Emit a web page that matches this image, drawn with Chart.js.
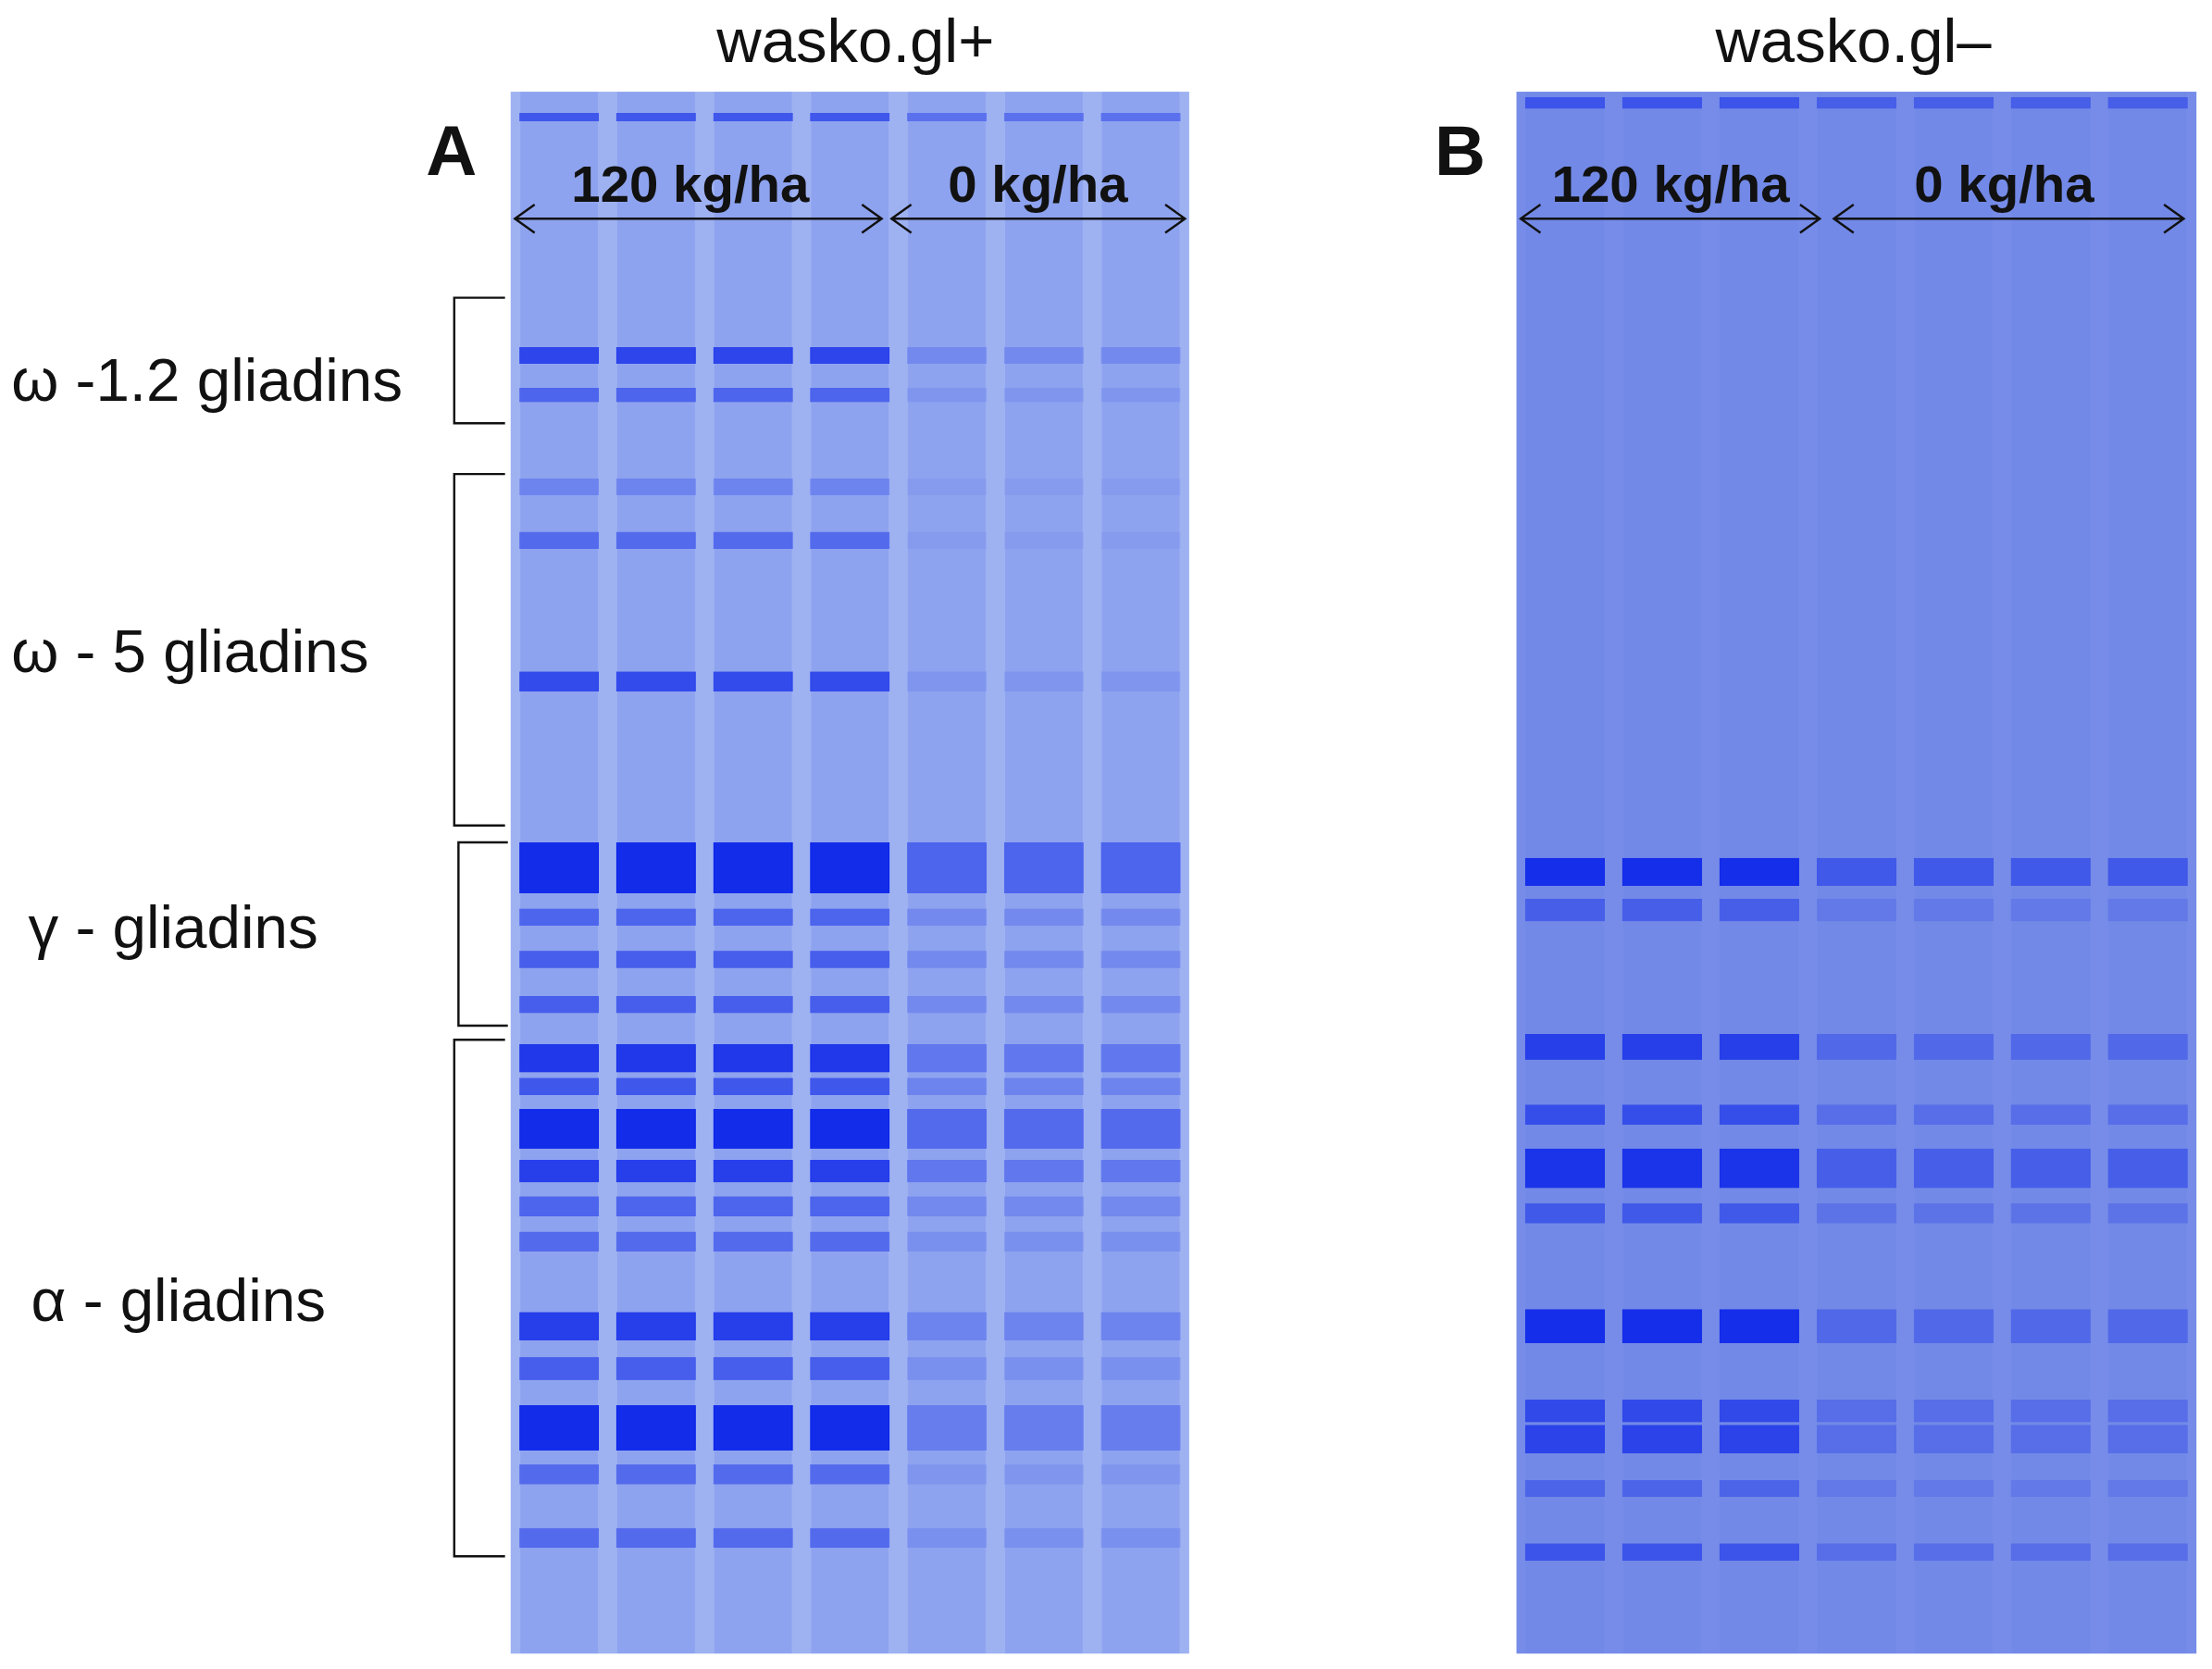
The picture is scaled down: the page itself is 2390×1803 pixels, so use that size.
<!DOCTYPE html>
<html><head><meta charset="utf-8">
<script src="https://cdn.jsdelivr.net/npm/chart.js@4/dist/chart.umd.min.js"></script>
<style>
html,body{margin:0;padding:0;background:#fff;overflow:hidden}
#page{position:absolute;left:0;top:0;width:1568px;height:1188px;transform:scale(1.5242);transform-origin:0 0;font-family:"Liberation Sans",Arial,sans-serif;color:#111}
.t{position:absolute;white-space:nowrap}
canvas{position:absolute}
</style></head><body>
<div id="page">
<canvas id="ga" style="left:362px;top:65px;width:481px;height:1107px"></canvas>
<canvas id="gb" style="left:1075px;top:65px;width:482px;height:1107px"></canvas>
<svg style="position:absolute;left:0;top:0" width="1568" height="1188" fill="none" stroke="#111" stroke-width="1.6">
<path d="M358 211H322V300H358M358 336H322V585H358M360 597H325V727H360M358 737H322V1103H358"/>
<g id="arrows"></g>
</svg>
<div class="t" style="left:508px;top:4px;font-size:44px">wasko.gl+</div>
<div class="t" style="left:1216px;top:4px;font-size:44px">wasko.gl–</div>
<div class="t" style="left:302px;top:78px;font-size:50px;font-weight:bold">A</div>
<div class="t" style="left:1017px;top:78px;font-size:50px;font-weight:bold">B</div>
<div class="t" style="left:405px;top:110px;font-size:37px;font-weight:bold">120 kg/ha</div>
<div class="t" style="left:672px;top:110px;font-size:37px;font-weight:bold">0 kg/ha</div>
<div class="t" style="left:1100px;top:110px;font-size:37px;font-weight:bold">120 kg/ha</div>
<div class="t" style="left:1357px;top:110px;font-size:37px;font-weight:bold">0 kg/ha</div>
<div class="t" style="left:8px;top:245px;font-size:43px">ω -1.2 gliadins</div>
<div class="t" style="left:8px;top:437px;font-size:43px">ω - 5 gliadins</div>
<div class="t" style="left:20px;top:633px;font-size:43px">γ - gliadins</div>
<div class="t" style="left:22px;top:897px;font-size:43px">α - gliadins</div>
</div>
<script>
// Lanes (7 per gel); first N lanes = 120 kg/ha, rest = 0 kg/ha
const lanesA = ['1','2','3','4','5','6','7'];
const lanesB = ['1','2','3','4','5','6','7'];
const highLanesA = 4, highLanesB = 3;
// Band migration (units from gel top), half thickness, intensity at 120 and 0 kg/ha
const posA   = [18,187,215,280,318,418,550,585,615,647,685,705,735,765,790,815,875,905,947,980,1025];
const thickA = [3,6,5,6,6,7,18,6,6,6,10,6,14,8,7,7,10,8,16,7,7];
const hiA    = [0.6,0.75,0.5,0.25,0.45,0.7,0.95,0.5,0.55,0.55,0.85,0.6,0.95,0.8,0.5,0.45,0.8,0.55,0.95,0.45,0.45];
const loA    = [0.4,0.2,0.1,0.05,0.05,0.1,0.5,0.2,0.2,0.2,0.35,0.25,0.45,0.35,0.2,0.15,0.25,0.15,0.3,0.1,0.15];
const posB   = [8,553,580,677,725,763,795,875,935,955,990,1035];
const thickB = [4,10,8,9,7,14,7,12,8,10,6,6];
const hiB    = [0.5,0.85,0.4,0.7,0.55,0.8,0.45,0.85,0.6,0.65,0.35,0.5];
const loB    = [0.4,0.45,0.15,0.3,0.25,0.4,0.2,0.3,0.25,0.25,0.15,0.25];
const gelLength = 1107;

// double arrows
const arrowSpans = [[365,625,155],[632,840,155],[1078,1290,155],[1300,1548,155]];
let ad='';
arrowSpans.forEach(([a,b,y])=>{ad+=`M${a} ${y}H${b}M${a+14} ${y-10}L${a} ${y}L${a+14} ${y+10}M${b-14} ${y-10}L${b} ${y}L${b-14} ${y+10}`;});
document.getElementById('arrows').innerHTML=`<path d="${ad}"/>`;

function gel(id, lanes, nHigh, pos, thick, hi, lo, bg, smear){
  const ds=[{data:lanes.map(()=>[0,gelLength]),backgroundColor:smear,barPercentage:0.8,categoryPercentage:1,grouped:false}];
  pos.forEach((p,i)=>{
    ds.push({data:lanes.map(()=>[p-thick[i],p+thick[i]]),
      backgroundColor:lanes.map((l,j)=>`rgba(0,25,235,${j<nHigh?hi[i]:lo[i]})`),
      barPercentage:0.82,categoryPercentage:1,grouped:false});
  });
  const c=document.getElementById(id); c.width=481; c.height=1107;
  new Chart(c,{type:'bar',data:{labels:lanes,datasets:ds},
    options:{responsive:false,devicePixelRatio:3,animation:false,
      layout:{padding:0},
      plugins:{legend:{display:false},tooltip:{enabled:false}},
      scales:{x:{display:false},y:{display:false,min:0,max:gelLength,reverse:true}}},
    plugins:[{id:'bg',beforeDraw(ch){const {ctx}=ch;ctx.save();ctx.fillStyle=bg;ctx.fillRect(0,0,ch.width,ch.height);ctx.restore();}}]});
}
gel('ga',lanesA,highLanesA,posA,thickA,hiA,loA,'rgb(158,178,242)','rgba(70,95,225,0.18)');
gel('gb',lanesB,highLanesB,posB,thickB,hiB,loB,'rgb(118,140,232)','rgba(80,100,225,0.08)');
</script>
</body></html>
